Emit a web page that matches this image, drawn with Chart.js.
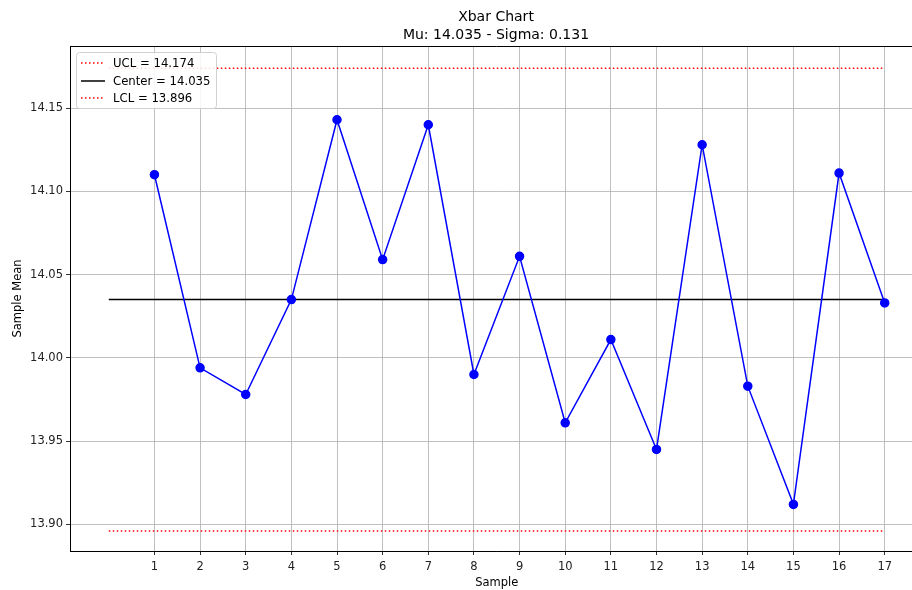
<!DOCTYPE html>
<html>
<head>
<meta charset="utf-8">
<script src="https://cdn.jsdelivr.net/npm/chart.js@4.4.1/dist/chart.umd.min.js"></script>
<style>
html,body{margin:0;padding:0;background:#fff;overflow:hidden;}
#wrap{position:relative;width:929px;height:590px;}
</style>
</head>
<body>
<div id="wrap"><canvas id="c"></canvas></div>
<script>
const samples = [1,2,3,4,5,6,7,8,9,10,11,12,13,14,15,16,17];
const sampleMeans = [14.110,13.994,13.978,14.035,14.143,14.059,14.140,13.990,14.061,13.961,14.011,13.945,14.128,13.983,13.912,14.111,14.033];
const UCL = 14.174;
const CENTER = 14.035;
const LCL = 13.896;
const limitX = [0,17];
const xTickValues = [1,2,3,4,5,6,7,8,9,10,11,12,13,14,15,16,17];
const yTickValues = [13.90,13.95,14.00,14.05,14.10,14.15];
const yRange = [13.884, 14.1873];
const titleLines = ['Xbar Chart','Mu: 14.035 - Sigma: 0.131'];

const FONT = "'DejaVu Sans', sans-serif";

const extras = {
  id:'extras',
  afterDraw(chart){
    const ctx = chart.ctx, a = chart.chartArea;
    ctx.save();
    // top spine
    ctx.strokeStyle = '#000'; ctx.lineWidth = 1;
    ctx.beginPath(); ctx.moveTo(a.left, a.top+0.5); ctx.lineTo(a.right, a.top+0.5); ctx.stroke();
    // title
    ctx.fillStyle = '#000'; ctx.font = "14px " + FONT; ctx.textAlign='center'; ctx.textBaseline='middle';
    ctx.fillText(titleLines[0], 496, 17);
    ctx.fillText(titleLines[1], 496, 35);
    // legend
    const bx=76, by=52, bw=140, bh=56;
    ctx.fillStyle='rgba(255,255,255,0.85)'; ctx.strokeStyle='#d0d0d0'; ctx.lineWidth=1;
    ctx.beginPath(); ctx.roundRect(bx+0.5,by+0.5,bw,bh,3); ctx.fill(); ctx.stroke();
    const items = chart.data.datasets.slice(1);
    const rows=[63,81,98];
    items.forEach((d,i)=>{
      ctx.strokeStyle=d.borderColor; ctx.lineWidth=d.borderWidth;
      ctx.setLineDash(d.borderDash||[]);
      ctx.beginPath(); ctx.moveTo(81,rows[i]); ctx.lineTo(105,rows[i]); ctx.stroke();
      ctx.setLineDash([]);
      ctx.fillStyle='#000'; ctx.font="11.7px "+FONT; ctx.textAlign='left'; ctx.textBaseline='middle';
      ctx.fillText(d.label,113,rows[i]+1);
    });
    ctx.restore();
  }
};

new Chart(document.getElementById('c'), {
  type:'scatter',
  data:{
    datasets:[
      {label:'Sample Mean', data:samples.map((s,i)=>({x:s,y:sampleMeans[i]})), showLine:true,
       borderColor:'#0000ff', backgroundColor:'#0000ff', borderWidth:1.5, pointRadius:4, pointHoverRadius:4, order:0},
      {label:'UCL = '+UCL.toFixed(3), data:limitX.map(x=>({x:x,y:UCL})), showLine:true, borderColor:'#ff0000',
       borderWidth:1.5, borderDash:[1.5,2.5], pointRadius:0, order:1},
      {label:'Center = '+CENTER.toFixed(3), data:limitX.map(x=>({x:x,y:CENTER})), showLine:true, borderColor:'#000000',
       borderWidth:1.5, pointRadius:0, order:1},
      {label:'LCL = '+LCL.toFixed(3), data:limitX.map(x=>({x:x,y:LCL})), showLine:true, borderColor:'#ff0000',
       borderWidth:1.5, borderDash:[1.5,2.5], pointRadius:0, order:1}
    ]
  },
  options:{
    responsive:true, maintainAspectRatio:false, animation:false,
    layout:{padding:{top:46,left:0,right:0,bottom:0}},
    plugins:{legend:{display:false}, title:{display:false}, tooltip:{enabled:false}},
    scales:{
      x:{type:'linear', min:-0.85, max:17.85,
        afterBuildTicks(s){ s.ticks = xTickValues.map(v=>({value:v})); },
        afterFit(s){ s.height = 39; },
        ticks:{color:'#222', font:{family:FONT,size:11.5}, padding:5, callback:v=>String(v)},
        grid:{color:'#b0b0b0', lineWidth:0.8, tickColor:'#000', tickLength:4, drawTicks:true},
        border:{color:'#000', width:1},
        title:{display:true, text:'Sample', color:'#000', font:{family:FONT,size:11.5}, padding:{top:0,bottom:0}}
      },
      y:{type:'linear', min:yRange[0], max:yRange[1],
        afterBuildTicks(s){ s.ticks = yTickValues.map(v=>({value:v})); },
        afterFit(s){ s.width = 70; },
        ticks:{color:'#222', font:{family:FONT,size:11.5}, padding:3, callback:v=>Number(v).toFixed(2)},
        grid:{color:'#b0b0b0', lineWidth:0.8, tickColor:'#000', tickLength:4, drawTicks:true},
        border:{color:'#000', width:1},
        title:{display:true, text:'Sample Mean', color:'#000', font:{family:FONT,size:11.5}, padding:{top:11,bottom:0}}
      }
    }
  },
  plugins:[extras]
});
</script>
</body>
</html>
